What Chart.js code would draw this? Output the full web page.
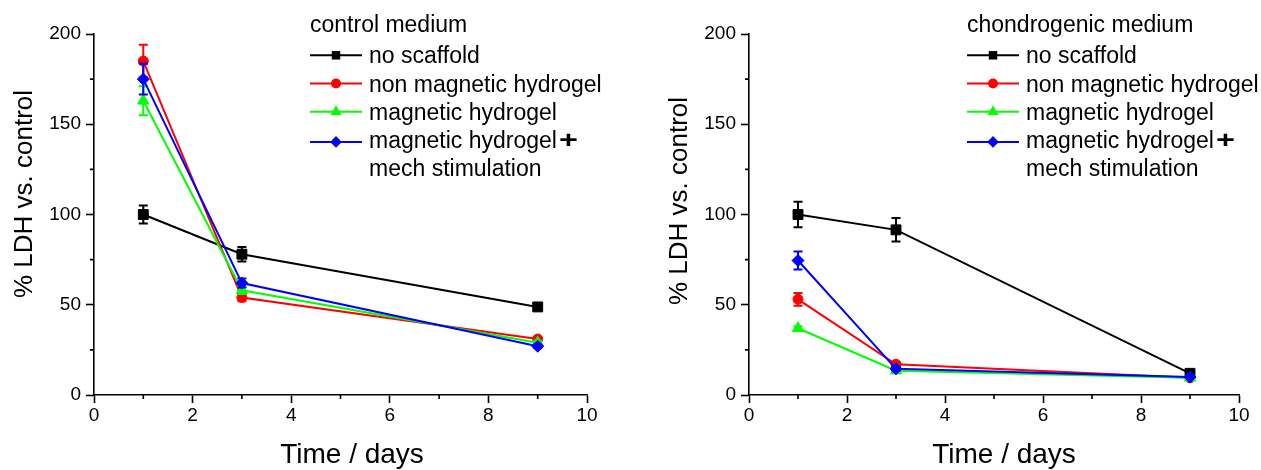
<!DOCTYPE html>
<html>
<head>
<meta charset="utf-8">
<script src="https://cdn.jsdelivr.net/npm/chart.js@4.4.1/dist/chart.umd.min.js"></script>
<style>
  html, body { margin: 0; padding: 0; background: #fff; }
  #wrap { position: relative; width: 1261px; height: 470px; }
  canvas { position: absolute; top: 0; }
</style>
</head>
<body>
<div id="wrap">
  <canvas id="ctrl" width="630" height="470" style="left:0px"></canvas>
  <canvas id="chon" width="621" height="470" style="left:640px"></canvas>
</div>
<script>
// ---- data ----
const days = [1, 3, 9];
const seriesNames = ['no scaffold', 'non magnetic hydrogel', 'magnetic hydrogel', 'magnetic hydrogel'];
const xTicks = [0, 2, 4, 6, 8, 10];
const xMinor = [1, 3, 5, 7, 9];
const yTicks = [0, 50, 100, 150, 200];
const yMinor = [25, 75, 125, 175];

// control medium
const ctrlNoScaffold = [100, 78, 48.8];
const ctrlNoScaffoldErr = [5, 4, 1];
const ctrlNonMag = [185, 54, 31];
const ctrlNonMagErr = [9, 2, 1];
const ctrlMag = [163, 58, 29];
const ctrlMagErr = [8, 2, 1];
const ctrlMagMech = [175, 62, 27];
const ctrlMagMechErr = [8.5, 2.5, 1];

// chondrogenic medium
const chonNoScaffold = [100, 91.5, 12];
const chonNoScaffoldErr = [7, 6.5, 1];
const chonNonMag = [53, 17, 9.5];
const chonNonMagErr = [3.5, 1, 1];
const chonMag = [37, 13.5, 9.5];
const chonMagErr = [1, 1, 0.5];
const chonMagMech = [74.5, 14.5, 10];
const chonMagMechErr = [5, 1, 0.5];

// ---- styles ----
const FONT = "'Liberation Sans', Arial, Helvetica, sans-serif";
Chart.defaults.font.family = FONT;
Chart.defaults.color = '#000';

const styles = [
  { color: '#000000', point: 'rect', radius: 7, legendRadius: 6 },
  { color: '#ff0000', point: 'circle', radius: 5, legendRadius: 5 },
  { color: '#00ff00', point: 'triangle', radius: 6.5, legendRadius: 6.5 },
  { color: '#0000ff', point: 'rectRot', radius: 6, legendRadius: 5.8 }
];
const LW = 2;

function marker(ctx, style, x, y, r) {
  ctx.beginPath();
  if (style === 'rect') {
    const s = r * Math.SQRT1_2;
    ctx.rect(x - s, y - s, 2 * s, 2 * s);
  } else if (style === 'circle') {
    ctx.arc(x, y, r, 0, Math.PI * 2);
  } else if (style === 'triangle') {
    ctx.moveTo(x, y - r);
    ctx.lineTo(x + r * 0.866, y + r * 0.5);
    ctx.lineTo(x - r * 0.866, y + r * 0.5);
    ctx.closePath();
  } else {
    ctx.moveTo(x, y - r); ctx.lineTo(x + r, y); ctx.lineTo(x, y + r); ctx.lineTo(x - r, y);
    ctx.closePath();
  }
  ctx.fill();
}

const errorBars = {
  id: 'errorBars',
  afterDatasetDraw(chart, args) {
    const ds = chart.data.datasets[args.index];
    const ys = chart.scales.y, ctx = chart.ctx;
    ctx.save();
    ctx.strokeStyle = ds.borderColor;
    ctx.lineWidth = LW;
    args.meta.data.forEach((pt, i) => {
      const v = ds.data[i].y, e = ds.err[i];
      const t = ys.getPixelForValue(v + e), b = ys.getPixelForValue(v - e);
      ctx.beginPath();
      ctx.moveTo(pt.x, t); ctx.lineTo(pt.x, b);
      ctx.moveTo(pt.x - 4.5, t); ctx.lineTo(pt.x + 4.5, t);
      ctx.moveTo(pt.x - 4.5, b); ctx.lineTo(pt.x + 4.5, b);
      ctx.stroke();
    });
    ctx.restore();
  }
};

const decorations = {
  id: 'decorations',
  afterDraw(chart, args, o) {
    const { ctx, chartArea } = chart;
    const xs = chart.scales.x, ys = chart.scales.y;
    ctx.save();
    // minor ticks
    ctx.strokeStyle = '#000';
    ctx.lineWidth = 1.6;
    ctx.beginPath();
    xMinor.forEach(v => {
      const px = xs.getPixelForValue(v);
      ctx.moveTo(px, chartArea.bottom); ctx.lineTo(px, chartArea.bottom + 4);
    });
    yMinor.forEach(v => {
      const py = ys.getPixelForValue(v);
      ctx.moveTo(chartArea.left, py); ctx.lineTo(chartArea.left - 4, py);
    });
    ctx.stroke();

    // axis titles
    ctx.fillStyle = '#000';
    ctx.textBaseline = 'alphabetic';
    ctx.textAlign = 'center';
    ctx.font = '28px ' + FONT;
    ctx.fillText('Time / days', o.xTitleX, 463);
    ctx.save();
    ctx.translate(o.yTitleX, o.yTitleY);
    ctx.rotate(-Math.PI / 2);
    ctx.font = '26px ' + FONT;
    ctx.fillText('% LDH vs. control', 0, 0);
    ctx.restore();

    // legend
    ctx.textAlign = 'left';
    ctx.font = '23px ' + FONT;
    ctx.fillText(o.legendTitle, o.legendX, 32);
    const lx = o.legendX;
    chart.data.datasets.forEach((ds, i) => {
      const st = styles[i];
      const base = 63.3 + i * 28.2;
      const ly = base - 8 + (i === 3 ? 2 : 0);
      ctx.strokeStyle = ds.borderColor;
      ctx.fillStyle = ds.borderColor;
      ctx.lineWidth = LW;
      ctx.beginPath(); ctx.moveTo(lx, ly); ctx.lineTo(lx + 52, ly); ctx.stroke();
      marker(ctx, st.point, lx + 26, ly, st.legendRadius);
      ctx.fillStyle = '#000';
      ctx.font = '23px ' + FONT;
      ctx.fillText(ds.label, lx + 59, base);
      if (i === 3) {
        const w = ctx.measureText(ds.label).width;
        ctx.save();
        ctx.translate(lx + 59 + w + 2, base);
        ctx.scale(1.35, 1);
        ctx.font = 'bold 24px ' + FONT;
        ctx.fillText('+', 0, 0);
        ctx.restore();
        ctx.fillText('mech stimulation', lx + 59, base + 28);
      }
    });
    ctx.restore();
  }
};

function makePanel(id, series, errs, lay) {
  const datasets = series.map((vals, i) => ({
    label: seriesNames[i],
    data: days.map((d, k) => ({ x: d, y: vals[k] })),
    err: errs[i],
    borderColor: styles[i].color,
    backgroundColor: styles[i].color,
    pointBackgroundColor: styles[i].color,
    pointBorderColor: styles[i].color,
    pointStyle: styles[i].point,
    pointRadius: styles[i].radius,
    pointBorderWidth: 1,
    borderWidth: LW,
    tension: 0,
    order: 4 - i,
    clip: false
  }));
  const axisCommon = {
    type: 'linear',
    grid: { drawOnChartArea: false, drawTicks: true, tickLength: 8, tickColor: '#000', tickWidth: 1.6 },
    border: { color: '#000', width: 1.6 },
    ticks: { font: { size: 19 }, color: '#000' }
  };
  return new Chart(document.getElementById(id), {
    type: 'line',
    data: { datasets },
    options: {
      responsive: false,
      animation: false,
      events: [],
      layout: { padding: { left: 0, top: 34, right: lay.padRight, bottom: 0 } },
      scales: {
        x: Object.assign({}, axisCommon, {
          min: 0, max: 10,
          ticks: Object.assign({}, axisCommon.ticks, { stepSize: 2, padding: 1 }),
          afterBuildTicks: s => { s.ticks = xTicks.map(v => ({ value: v })); },
          afterFit: s => { s.height = 75; }
        }),
        y: Object.assign({}, axisCommon, {
          min: 0, max: 200,
          ticks: Object.assign({}, axisCommon.ticks, { stepSize: 50, padding: 5 }),
          afterBuildTicks: s => { s.ticks = yTicks.map(v => ({ value: v })); },
          afterFit: s => { s.width = lay.yWidth; }
        })
      },
      plugins: {
        legend: { display: false },
        tooltip: { enabled: false },
        decorations: lay
      }
    },
    plugins: [errorBars, decorations]
  });
}

makePanel('ctrl',
  [ctrlNoScaffold, ctrlNonMag, ctrlMag, ctrlMagMech],
  [ctrlNoScaffoldErr, ctrlNonMagErr, ctrlMagErr, ctrlMagMechErr],
  { padRight: 43, yWidth: 94, legendTitle: 'control medium', legendX: 310,
    yTitleX: 32, yTitleY: 194, xTitleX: 352 });

makePanel('chon',
  [chonNoScaffold, chonNonMag, chonMag, chonMagMech],
  [chonNoScaffoldErr, chonNonMagErr, chonMagErr, chonMagMechErr],
  { padRight: 22, yWidth: 109, legendTitle: 'chondrogenic medium', legendX: 327,
    yTitleX: 47, yTitleY: 201, xTitleX: 364 });
</script>
</body>
</html>
